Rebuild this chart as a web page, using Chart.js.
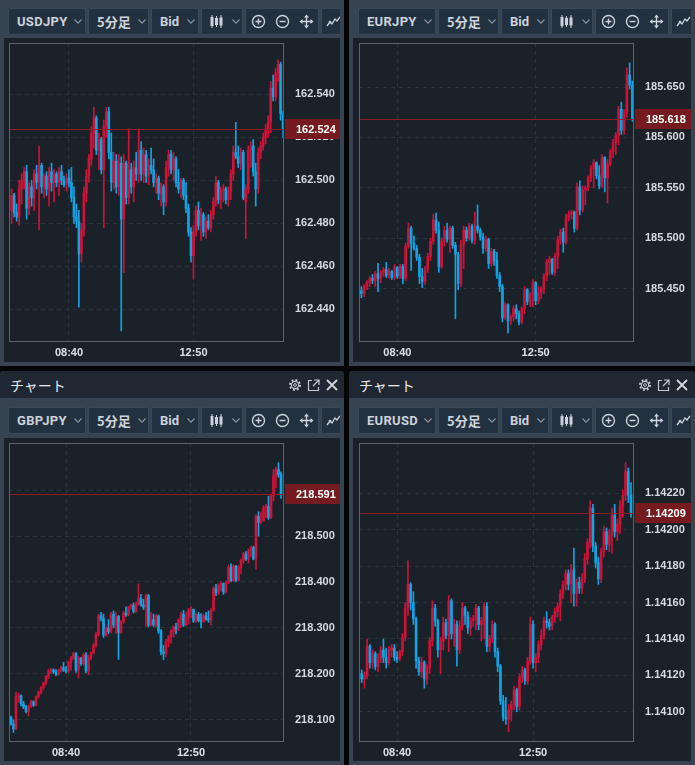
<!DOCTYPE html>
<html lang="ja">
<head>
<meta charset="UTF-8">
<title>5分足チャート</title>
<script src="https://cdn.jsdelivr.net/npm/chart.js"></script>
<style>
  body { margin: 0; width: 695px; height: 765px; background: #040506; overflow: hidden;
         font-family: "Liberation Sans", Arial, sans-serif; }
  .panel { position: absolute; background: #374351; overflow: hidden; }
  .panel.low { border-radius: 4px 4px 0 0; }
  .head { position: absolute; left: 0; top: 0; width: 100%; height: 27px; background: #1f2732; }
  .title { position: absolute; left: 10px; top: 4px; font-size: 14px; line-height: 20px;
           font-family: "Noto Sans CJK JP", sans-serif; color: #e8ebee; }
  .bar { position: absolute; height: 27px; overflow: hidden; }
  .btn { position: absolute; top: 0; height: 25px; background: #233040; border: 1px solid #3b4857;
         border-radius: 2px; color: #ccd3db; }
  .btn span { position: absolute; top: 0; line-height: 25px; font-size: 13px; font-weight: bold;
              font-family: Roboto, "Liberation Sans", sans-serif; }
  .btn span.jp { font-family: "Noto Sans CJK JP", sans-serif; }
  .ic { position: absolute; }
  .area { position: absolute; background: #1b2129; }
  canvas { display: block; }
</style>
</head>
<body>
<div id="root"></div>
<script>
const timeLabels = ['08:40', '12:50'];

// USDJPY 5分足
const usdjpyOpen = [
  162.486,162.493,162.485,162.483,162.496,162.500,162.504,162.487,162.497,162.492,
  162.503,162.499,162.507,162.497,162.502,162.496,162.504,162.499,162.503,162.499,
  162.504,162.500,162.498,162.501,162.499,162.492,162.483,162.481,162.466,162.477,
  162.494,162.502,162.510,162.522,162.529,162.514,162.519,162.505,162.525,162.532,
  162.513,162.499,162.509,162.497,162.508,162.482,162.508,162.492,162.505,162.497,
  162.506,162.503,162.514,162.503,162.512,162.502,162.507,162.505,162.499,162.501,
  162.494,162.497,162.490,162.506,162.512,162.505,162.510,162.499,162.496,162.500,
  162.493,162.487,162.476,162.465,162.476,162.486,162.479,162.484,162.476,162.481,
  162.478,162.484,162.490,162.499,162.491,162.495,162.496,162.491,162.495,162.503,
  162.513,162.511,162.508,162.513,162.490,162.496,162.514,162.516,162.504,162.496,
  162.513,162.516,162.520,162.524,162.527,162.543,162.539,162.550,162.554,162.531];
const usdjpyHigh = [
  162.496,162.494,162.489,162.500,162.503,162.506,162.507,162.499,162.500,162.505,
  162.507,162.516,162.508,162.503,162.504,162.506,162.508,162.505,162.504,162.506,
  162.507,162.502,162.503,162.505,162.506,162.497,162.489,162.486,162.480,162.497,
  162.505,162.512,162.525,162.534,162.530,162.522,162.520,162.528,162.534,162.534,
  162.522,162.513,162.512,162.512,162.511,162.512,162.509,162.524,162.508,162.509,
  162.513,162.524,162.518,162.515,162.514,162.510,162.515,162.510,162.503,162.502,
  162.499,162.498,162.509,162.514,162.514,162.513,162.511,162.505,162.501,162.501,
  162.499,162.489,162.478,162.479,162.488,162.490,162.487,162.485,162.483,162.484,
  162.486,162.492,162.502,162.500,162.497,162.498,162.497,162.497,162.505,162.516,
  162.527,162.516,162.515,162.514,162.498,162.516,162.518,162.519,162.508,162.515,
  162.518,162.522,162.526,162.530,162.546,162.549,162.552,162.556,162.555,162.532];
const usdjpyLow = [
  162.480,162.483,162.481,162.479,162.489,162.496,162.482,162.484,162.488,162.486,
  162.496,162.477,162.494,162.492,162.493,162.488,162.495,162.490,162.497,162.493,
  162.498,162.497,162.495,162.497,162.490,162.480,162.478,162.441,162.462,162.474,
  162.490,162.499,162.507,162.515,162.512,162.505,162.503,162.478,162.520,162.510,
  162.495,162.496,162.494,162.493,162.430,162.457,162.489,162.489,162.494,162.490,
  162.500,162.499,162.500,162.499,162.499,162.498,162.503,162.497,162.494,162.491,
  162.488,162.484,162.488,162.502,162.503,162.500,162.497,162.494,162.492,162.491,
  162.485,162.474,162.462,162.454,162.474,162.477,162.472,162.474,162.473,162.477,
  162.476,162.482,162.488,162.489,162.487,162.490,162.489,162.488,162.491,162.500,
  162.510,162.506,162.505,162.491,162.473,162.494,162.506,162.502,162.488,162.494,
  162.510,162.514,162.517,162.520,162.522,162.537,162.537,162.546,162.528,162.520];
const usdjpyClose = [
  162.493,162.485,162.483,162.496,162.500,162.504,162.487,162.497,162.492,162.503,
  162.499,162.507,162.497,162.502,162.496,162.504,162.499,162.503,162.499,162.504,
  162.500,162.498,162.501,162.499,162.492,162.483,162.481,162.466,162.477,162.494,
  162.502,162.510,162.522,162.529,162.514,162.519,162.505,162.525,162.532,162.513,
  162.499,162.509,162.497,162.508,162.482,162.508,162.492,162.505,162.497,162.506,
  162.503,162.514,162.503,162.512,162.502,162.507,162.505,162.499,162.501,162.494,
  162.497,162.490,162.506,162.512,162.505,162.510,162.499,162.496,162.500,162.493,
  162.487,162.476,162.465,162.476,162.486,162.479,162.484,162.476,162.481,162.478,
  162.484,162.490,162.499,162.491,162.495,162.496,162.491,162.495,162.503,162.513,
  162.511,162.508,162.513,162.492,162.496,162.514,162.516,162.504,162.496,162.513,
  162.516,162.520,162.524,162.527,162.543,162.539,162.550,162.554,162.531,162.524];
const usdjpyTicks = [162.440, 162.460, 162.480, 162.500, 162.520, 162.540];
const usdjpyTimeIdx = [23, 73];

// EURJPY 5分足
const eurjpyOpen = [
  185.448,185.445,185.452,185.456,185.460,185.458,185.465,185.460,185.466,185.469,
  185.463,185.467,185.461,185.471,185.462,185.472,185.460,185.492,185.510,185.495,
  185.490,185.481,185.462,185.457,185.469,185.482,185.497,185.518,185.508,185.472,
  185.497,185.508,185.499,185.510,185.493,185.484,185.455,185.494,185.508,185.500,
  185.512,185.498,185.512,185.508,185.501,185.490,185.499,185.475,185.487,185.478,
  185.463,185.452,185.421,185.434,185.418,185.422,185.430,185.425,185.417,185.430,
  185.449,185.437,185.444,185.456,185.438,185.446,185.450,185.462,185.476,185.479,
  185.466,185.482,185.499,185.506,185.496,185.521,185.524,185.526,185.510,185.551,
  185.528,185.548,185.550,185.560,185.569,185.575,185.562,185.552,185.580,185.560,
  185.574,185.586,185.595,185.602,185.628,185.607,185.625,185.662,185.652];
const eurjpyHigh = [
  185.452,185.454,185.458,185.462,185.464,185.467,185.475,185.468,185.471,185.476,
  185.470,185.468,185.474,185.472,185.474,185.474,185.495,185.515,185.512,185.502,
  185.493,185.484,185.470,185.472,185.485,185.500,185.524,185.525,185.516,185.500,
  185.512,185.515,185.512,185.512,185.496,185.486,185.498,185.512,185.511,185.515,
  185.514,185.526,185.533,185.510,185.505,185.502,185.500,185.490,185.489,185.486,
  185.466,185.454,185.436,185.435,185.424,185.433,185.434,185.428,185.432,185.452,
  185.450,185.446,185.459,185.457,185.452,185.452,185.465,185.479,185.482,185.480,
  185.485,185.502,185.509,185.510,185.524,185.527,185.528,185.527,185.555,185.557,
  185.552,185.552,185.562,185.572,185.578,185.576,185.572,185.583,185.581,185.578,
  185.588,185.598,185.605,185.631,185.635,185.628,185.669,185.674,185.656];
const eurjpyLow = [
  185.441,185.442,185.449,185.452,185.455,185.452,185.447,185.456,185.462,185.461,
  185.460,185.459,185.459,185.460,185.460,185.455,185.458,185.490,185.468,185.488,
  185.478,185.455,185.451,185.454,185.466,185.478,185.494,185.505,185.466,185.470,
  185.492,185.496,185.486,185.490,185.420,185.449,185.452,185.470,185.497,185.498,
  185.495,185.494,185.505,185.498,185.485,185.487,185.470,185.472,185.473,185.460,
  185.447,185.417,185.419,185.406,185.414,185.418,185.420,185.414,185.415,185.425,
  185.434,185.432,185.432,185.434,185.435,185.440,185.445,185.458,185.464,185.464,
  185.463,185.470,185.494,185.486,185.494,185.517,185.519,185.506,185.508,185.523,
  185.526,185.533,185.547,185.556,185.550,185.559,185.549,185.550,185.546,185.535,
  185.572,185.580,185.583,185.593,185.603,185.603,185.620,185.648,185.616];
const eurjpyClose = [
  185.445,185.452,185.456,185.460,185.458,185.465,185.460,185.466,185.469,185.463,
  185.467,185.461,185.471,185.462,185.472,185.460,185.492,185.510,185.495,185.490,
  185.481,185.462,185.457,185.469,185.482,185.497,185.518,185.508,185.472,185.497,
  185.508,185.499,185.510,185.493,185.484,185.455,185.494,185.508,185.500,185.512,
  185.498,185.512,185.508,185.501,185.490,185.499,185.475,185.487,185.478,185.463,
  185.452,185.421,185.434,185.418,185.422,185.430,185.425,185.417,185.430,185.449,
  185.437,185.444,185.456,185.438,185.446,185.450,185.462,185.476,185.479,185.466,
  185.482,185.499,185.506,185.496,185.521,185.524,185.526,185.510,185.551,185.528,
  185.548,185.550,185.560,185.569,185.575,185.562,185.552,185.580,185.560,185.574,
  185.586,185.595,185.602,185.628,185.607,185.625,185.662,185.652,185.618];
const eurjpyTicks = [185.450, 185.500, 185.550, 185.600, 185.650];
const eurjpyTimeIdx = [13, 63];

// GBPJPY 5分足
const gbpjpyOpen = [
  218.105,218.091,218.080,218.150,218.152,218.135,218.128,218.118,218.129,218.139,
  218.132,218.150,218.159,218.170,218.180,218.194,218.206,218.208,218.204,218.199,
  218.207,218.213,218.208,218.205,218.225,218.234,218.244,218.208,218.234,218.222,
  218.241,218.206,218.236,218.245,218.262,218.286,218.326,218.320,218.284,218.299,
  218.292,218.330,218.306,218.325,218.290,218.313,218.332,218.328,218.345,218.349,
  218.336,218.352,218.364,218.350,218.345,218.370,218.306,218.318,218.307,218.326,
  218.293,218.248,218.244,218.270,218.280,218.292,218.302,218.298,218.317,218.329,
  218.306,218.323,218.338,218.340,218.315,218.329,218.316,218.314,218.326,218.320,
  218.317,218.338,218.385,218.377,218.393,218.397,218.378,218.398,218.432,218.403,
  218.434,218.404,218.432,218.447,218.461,218.450,218.468,218.475,218.450,218.543,
  218.530,218.534,218.562,218.565,218.540,218.588,218.632,218.645,218.634];
const gbpjpyHigh = [
  218.108,218.100,218.160,218.158,218.154,218.140,218.131,218.132,218.142,218.141,
  218.152,218.162,218.172,218.182,218.196,218.210,218.212,218.211,218.209,218.210,
  218.216,218.225,218.216,218.228,218.238,218.247,218.246,218.238,218.236,218.245,
  218.246,218.240,218.248,218.266,218.290,218.330,218.334,218.330,218.302,218.318,
  218.334,218.337,218.334,218.327,218.316,218.336,218.346,218.347,218.352,218.354,
  218.356,218.396,218.373,218.362,218.374,218.373,218.333,218.330,218.329,218.328,
  218.296,218.262,218.275,218.283,218.296,218.305,218.310,218.320,218.334,218.338,
  218.335,218.342,218.346,218.341,218.332,218.334,218.331,218.330,218.334,218.337,
  218.342,218.390,218.395,218.396,218.400,218.398,218.402,218.437,218.440,218.438,
  218.436,218.436,218.450,218.465,218.466,218.472,218.478,218.478,218.546,218.553,
  218.552,218.566,218.569,218.587,218.592,218.645,218.650,218.660,218.640];
const gbpjpyLow = [
  218.088,218.072,218.078,218.138,218.130,218.124,218.115,218.108,218.126,218.129,
  218.130,218.147,218.156,218.166,218.176,218.190,218.200,218.201,218.196,218.197,
  218.204,218.205,218.202,218.203,218.208,218.231,218.203,218.191,218.218,218.219,
  218.202,218.198,218.230,218.243,218.258,218.282,218.315,218.279,218.282,218.287,
  218.289,218.300,218.288,218.231,218.288,218.310,218.325,218.326,218.341,218.332,
  218.334,218.349,218.347,218.340,218.303,218.302,218.304,218.303,218.302,218.288,
  218.241,218.231,218.237,218.258,218.266,218.280,218.287,218.294,218.301,218.303,
  218.305,218.308,218.322,218.312,218.312,218.313,218.300,218.312,218.316,218.312,
  218.306,218.336,218.370,218.372,218.380,218.373,218.376,218.396,218.400,218.401,
  218.400,218.402,218.418,218.441,218.447,218.441,218.455,218.448,218.427,218.500,
  218.527,218.532,218.540,218.536,218.538,218.576,218.605,218.628,218.582];
const gbpjpyClose = [
  218.091,218.080,218.150,218.152,218.135,218.128,218.118,218.129,218.139,218.132,
  218.150,218.159,218.170,218.180,218.194,218.206,218.208,218.204,218.199,218.207,
  218.213,218.208,218.205,218.225,218.234,218.244,218.208,218.234,218.222,218.241,
  218.206,218.236,218.245,218.262,218.286,218.326,218.320,218.284,218.299,218.292,
  218.330,218.306,218.325,218.290,218.313,218.332,218.328,218.345,218.349,218.336,
  218.352,218.364,218.350,218.345,218.370,218.306,218.318,218.307,218.326,218.293,
  218.248,218.244,218.270,218.280,218.292,218.302,218.298,218.317,218.329,218.306,
  218.323,218.338,218.340,218.315,218.329,218.316,218.314,218.326,218.320,218.317,
  218.338,218.385,218.377,218.393,218.397,218.378,218.398,218.432,218.403,218.434,
  218.404,218.432,218.447,218.461,218.450,218.468,218.475,218.450,218.543,218.530,
  218.534,218.562,218.565,218.540,218.588,218.632,218.645,218.634,218.591];
const gbpjpyTicks = [218.100, 218.200, 218.300, 218.400, 218.500, 218.600];
const gbpjpyTimeIdx = [22, 72];

// EURUSD 5分足
const eurusdOpen = [
  1.14121,1.14118,1.14120,1.14136,1.14127,1.14132,1.14125,1.14129,1.14134,1.14130,
  1.14127,1.14134,1.14135,1.14130,1.14129,1.14133,1.14141,1.14157,1.14170,1.14160,
  1.14151,1.14128,1.14122,1.14127,1.14118,1.14124,1.14139,1.14157,1.14150,1.14134,
  1.14139,1.14149,1.14142,1.14161,1.14143,1.14148,1.14134,1.14147,1.14157,1.14153,
  1.14146,1.14150,1.14151,1.14157,1.14148,1.14150,1.14158,1.14136,1.14140,1.14148,
  1.14133,1.14125,1.14106,1.14097,1.14096,1.14101,1.14104,1.14112,1.14103,1.14119,
  1.14123,1.14117,1.14128,1.14148,1.14127,1.14130,1.14137,1.14142,1.14150,1.14149,
  1.14147,1.14152,1.14155,1.14158,1.14165,1.14170,1.14176,1.14170,1.14178,1.14165,
  1.14171,1.14168,1.14173,1.14184,1.14193,1.14212,1.14191,1.14182,1.14173,1.14188,
  1.14199,1.14192,1.14197,1.14208,1.14199,1.14203,1.14213,1.14219,1.14232,1.14219];
const eurusdHigh = [
  1.14123,1.14122,1.14140,1.14137,1.14134,1.14133,1.14132,1.14136,1.14140,1.14135,
  1.14136,1.14137,1.14137,1.14133,1.14134,1.14143,1.14160,1.14183,1.14171,1.14166,
  1.14152,1.14130,1.14130,1.14128,1.14126,1.14141,1.14161,1.14159,1.14151,1.14141,
  1.14152,1.14151,1.14164,1.14162,1.14151,1.14150,1.14150,1.14160,1.14158,1.14155,
  1.14152,1.14153,1.14159,1.14158,1.14152,1.14160,1.14160,1.14142,1.14150,1.14149,
  1.14135,1.14126,1.14109,1.14108,1.14104,1.14106,1.14114,1.14113,1.14121,1.14125,
  1.14124,1.14130,1.14152,1.14150,1.14132,1.14139,1.14145,1.14152,1.14155,1.14151,
  1.14153,1.14157,1.14160,1.14167,1.14172,1.14178,1.14178,1.14181,1.14190,1.14173,
  1.14174,1.14176,1.14187,1.14195,1.14216,1.14214,1.14193,1.14185,1.14190,1.14202,
  1.14201,1.14200,1.14212,1.14214,1.14206,1.14216,1.14222,1.14237,1.14234,1.14226];
const eurusdLow = [
  1.14116,1.14113,1.14118,1.14124,1.14124,1.14123,1.14122,1.14127,1.14127,1.14124,
  1.14126,1.14130,1.14128,1.14127,1.14128,1.14131,1.14139,1.14153,1.14156,1.14148,
  1.14124,1.14120,1.14119,1.14113,1.14115,1.14121,1.14136,1.14147,1.14130,1.14121,
  1.14134,1.14140,1.14133,1.14140,1.14136,1.14125,1.14132,1.14145,1.14148,1.14143,
  1.14142,1.14147,1.14145,1.14145,1.14139,1.14140,1.14133,1.14133,1.14138,1.14130,
  1.14122,1.14104,1.14095,1.14093,1.14089,1.14095,1.14101,1.14100,1.14101,1.14116,
  1.14115,1.14115,1.14126,1.14124,1.14122,1.14127,1.14134,1.14140,1.14146,1.14145,
  1.14145,1.14149,1.14152,1.14150,1.14162,1.14167,1.14167,1.14160,1.14158,1.14158,
  1.14165,1.14165,1.14171,1.14181,1.14190,1.14188,1.14179,1.14170,1.14171,1.14185,
  1.14189,1.14188,1.14187,1.14196,1.14194,1.14198,1.14207,1.14216,1.14215,1.14207];
const eurusdClose = [
  1.14118,1.14120,1.14136,1.14127,1.14132,1.14125,1.14129,1.14134,1.14130,1.14127,
  1.14134,1.14135,1.14130,1.14129,1.14133,1.14141,1.14157,1.14170,1.14160,1.14151,
  1.14128,1.14122,1.14127,1.14118,1.14124,1.14139,1.14157,1.14150,1.14134,1.14139,
  1.14149,1.14142,1.14161,1.14143,1.14148,1.14134,1.14147,1.14157,1.14153,1.14146,
  1.14150,1.14151,1.14157,1.14148,1.14150,1.14158,1.14136,1.14140,1.14148,1.14133,
  1.14125,1.14106,1.14097,1.14096,1.14101,1.14104,1.14112,1.14103,1.14119,1.14123,
  1.14117,1.14128,1.14148,1.14127,1.14130,1.14137,1.14142,1.14150,1.14149,1.14147,
  1.14152,1.14155,1.14158,1.14165,1.14170,1.14176,1.14170,1.14178,1.14165,1.14171,
  1.14168,1.14173,1.14184,1.14193,1.14212,1.14191,1.14182,1.14173,1.14188,1.14199,
  1.14192,1.14197,1.14208,1.14199,1.14203,1.14213,1.14219,1.14232,1.14219,1.14209];
const eurusdTicks = [1.14100, 1.14120, 1.14140, 1.14160, 1.14180, 1.14200, 1.14220];
const eurusdTimeIdx = [13, 63];

const UP = '#cc1338';
const DOWN = '#13a3e2';
const ICON = '#ccd3db';

// ---- panel chrome ----
function chevron(x) {
  return `<svg class="ic" style="left:${x}px;top:10px" width="8" height="5"><polyline points="0.5,0.5 4,4.2 7.5,0.5" fill="none" stroke="#8b96a2" stroke-width="1.1"/></svg>`;
}
const candleIcon = `<svg class="ic" style="left:8px;top:5px" width="13" height="15">
  <line x1="2" y1="1" x2="2" y2="14" stroke="${ICON}"/><rect x="0.5" y="3" width="3" height="9" fill="${ICON}"/>
  <line x1="6.5" y1="2" x2="6.5" y2="13" stroke="${ICON}"/><rect x="5.5" y="4.5" width="2" height="6" fill="none" stroke="${ICON}"/>
  <line x1="11" y1="1" x2="11" y2="14" stroke="${ICON}"/><rect x="9.5" y="3.5" width="3" height="8" fill="${ICON}"/></svg>`;
const zoomIcons = `
  <svg class="ic" style="left:5px;top:5px" width="15" height="15"><circle cx="7.5" cy="7.5" r="6" fill="none" stroke="${ICON}" stroke-width="1.4"/><path d="M7.5 4.5V10.5M4.5 7.5H10.5" stroke="${ICON}" stroke-width="1.4"/></svg>
  <svg class="ic" style="left:29px;top:5px" width="15" height="15"><circle cx="7.5" cy="7.5" r="6" fill="none" stroke="${ICON}" stroke-width="1.4"/><path d="M4.5 7.5H10.5" stroke="${ICON}" stroke-width="1.4"/></svg>
  <svg class="ic" style="left:53px;top:5px" width="15" height="15"><path d="M7.5 2V13M2 7.5H13" stroke="${ICON}" stroke-width="1.4"/>
    <path d="M7.5 0.5L5 3.5H10ZM7.5 14.5L5 11.5H10ZM0.5 7.5L3.5 5V10ZM14.5 7.5L11.5 5V10Z" fill="${ICON}"/></svg>`;
const lineIcon = `<svg class="ic" style="left:4px;top:6px" width="15" height="13"><polyline points="1,11 4,7 6,9 9,4 11,6 14,2" fill="none" stroke="${ICON}" stroke-width="1.3"/><circle cx="4" cy="7" r="1.3" fill="${ICON}"/></svg>`;

function toolbar(symbol) {
  return `
  <div class="btn" style="left:8px;width:76px"><span style="left:8px;letter-spacing:0.3px">${symbol}</span>${chevron(65)}</div>
  <div class="btn" style="left:88px;width:59px"><span class="jp" style="left:8px">5分足</span>${chevron(49)}</div>
  <div class="btn" style="left:151px;width:46px"><span style="left:8px">Bid</span>${chevron(35)}</div>
  <div class="btn" style="left:201px;width:40px">${candleIcon}${chevron(30)}</div>
  <div class="btn" style="left:245px;width:72px">${zoomIcons}</div>
  <div class="btn" style="left:321px;width:40px">${lineIcon}</div>`;
}

function headerBar(dx) {
  return `<div class="head"><div class="title">チャート</div>
    <svg class="ic" style="left:${288 + dx}px;top:7px" width="14" height="14"><circle cx="7" cy="7" r="5" fill="none" stroke="#c5cad1" stroke-width="2" stroke-dasharray="1.9 2"/><circle cx="7" cy="7" r="3.6" fill="none" stroke="#c5cad1" stroke-width="1.1"/><circle cx="7" cy="7" r="1.4" fill="none" stroke="#c5cad1"/></svg>
    <svg class="ic" style="left:${307 + dx}px;top:8px" width="13" height="13"><path d="M5 1.5H1.5V11.5H11.5V8" fill="none" stroke="#c5cad1" stroke-width="1.2"/><path d="M7 1H12V6M12 1L6 7" fill="none" stroke="#c5cad1" stroke-width="1.2"/></svg>
    <svg class="ic" style="left:${326 + dx}px;top:8px" width="12" height="12"><path d="M1 1L11 11M11 1L1 11" stroke="#d5d9de" stroke-width="1.8"/></svg></div>`;
}

const layout = [
  { cid: 'usdjpy', sym: 'USDJPY', left: 0,   top: 0,   w: 344, h: 366, head: false, dx: 0, aw: 336, ah: 324 },
  { cid: 'eurjpy', sym: 'EURJPY', left: 349, top: 0,   w: 346, h: 366, head: false, dx: 1, aw: 338, ah: 324 },
  { cid: 'gbpjpy', sym: 'GBPJPY', left: 0,   top: 371, w: 344, h: 394, head: true,  dx: 0, aw: 336, ah: 323 },
  { cid: 'eurusd', sym: 'EURUSD', left: 349, top: 371, w: 346, h: 394, head: true,  dx: 1, aw: 338, ah: 323 }
];

const root = document.getElementById('root');
layout.forEach(p => {
  const barTop = p.head ? 36 : 8;
  const areaTop = p.head ? 67 : 38;
  root.insertAdjacentHTML('beforeend', `
  <div class="panel${p.head ? ' low' : ''}" style="left:${p.left}px;top:${p.top}px;width:${p.w}px;height:${p.h}px">
    ${p.head ? headerBar(p.dx) : ''}
    <div class="bar" style="left:${p.dx}px;top:${barTop}px;width:${p.aw + 4 - p.dx}px">${toolbar(p.sym)}</div>
    <div class="area" style="left:4px;top:${areaTop}px;width:${p.aw}px;height:${p.ah}px">
      <canvas id="${p.cid}" width="${p.aw}" height="${p.ah}"></canvas>
    </div>
  </div>`);
});

// ---- candles ----
const labelFont = { family: 'Liberation Sans', size: 11, weight: 'bold' };

const lastPrice = {
  id: 'lastPrice',
  afterDatasetsDraw(chart, args, opts) {
    const { ctx, chartArea: a, scales: { y } } = chart;
    const py = Math.round(y.getPixelForValue(opts.value)) + 0.5;
    ctx.save();
    ctx.strokeStyle = '#8e1c25';
    ctx.lineWidth = 1;
    ctx.beginPath();
    ctx.moveTo(a.left, py);
    ctx.lineTo(a.right, py);
    ctx.stroke();
    ctx.strokeStyle = '#5a636e';
    ctx.strokeRect(a.left + 0.5, a.top + 0.5, a.right - a.left - 1, a.bottom - a.top - 1);
    ctx.restore();
  },
  afterDraw(chart, args, opts) {
    const { ctx, chartArea: a, scales: { y } } = chart;
    const py = Math.round(y.getPixelForValue(opts.value));
    ctx.save();
    ctx.fillStyle = '#751b20';
    ctx.fillRect(a.right + 1, py - 10, chart.width - a.right - 1, 20);
    ctx.fillStyle = '#ffffff';
    ctx.font = 'bold 11px "Liberation Sans"';
    ctx.textBaseline = 'middle';
    ctx.fillText(opts.value.toFixed(opts.decimals), a.right + 12, py + 1);
    ctx.restore();
  }
};

function drawCandles(canvasId, open, high, low, close, ticks, timeIdx, view) {
  const colors = close.map((c, i) => (c >= open[i] ? UP : DOWN));
  const bodies = open.map((o, i) => ({ x: i, y: [o, close[i]] }));
  const wicks = low.map((l, i) => ({ x: i, y: [l, high[i]] }));
  return new Chart(document.getElementById(canvasId), {
    type: 'bar',
    data: {
      datasets: [
        { data: bodies, backgroundColor: colors, barThickness: 2, minBarLength: 1, grouped: false, borderWidth: 0 },
        { data: wicks, backgroundColor: colors, barThickness: 1, grouped: false, borderWidth: 0 }
      ]
    },
    options: {
      responsive: false,
      animation: false,
      events: [],
      layout: { padding: { left: view.padLeft, top: 5, right: 0, bottom: 0 } },
      plugins: {
        legend: { display: false },
        tooltip: { enabled: false },
        lastPrice: { value: close[close.length - 1], decimals: view.decimals }
      },
      scales: {
        x: {
          type: 'linear', min: view.xMin, max: view.xMax, offset: false,
          grid: { color: '#2a323c', drawTicks: false, offset: false },
          border: { display: false, dash: [4, 4] },
          afterBuildTicks: s => { s.ticks = timeIdx.map(v => ({ value: v })); },
          afterFit: s => { s.height = view.axisH; s.paddingLeft = 0; s.paddingRight = 0; },
          ticks: {
            color: '#dfe3e7', font: labelFont, padding: 4, maxRotation: 0, autoSkip: false,
            callback: v => timeLabels[timeIdx.indexOf(v)]
          }
        },
        y: {
          position: 'right', min: view.yMin, max: view.yMax, beginAtZero: false,
          grid: { color: '#2a323c', drawTicks: false },
          border: { display: false, dash: [4, 4] },
          afterBuildTicks: s => { s.ticks = ticks.map(v => ({ value: v })); },
          afterFit: s => { s.width = view.axisW; s.paddingTop = 0; s.paddingBottom = 0; },
          ticks: {
            color: '#d7dbe0', font: labelFont, padding: 11, autoSkip: false,
            callback: v => v.toFixed(view.decimals)
          }
        }
      }
    },
    plugins: [lastPrice]
  });
}

drawCandles('usdjpy', usdjpyOpen, usdjpyHigh, usdjpyLow, usdjpyClose, usdjpyTicks, usdjpyTimeIdx,
  { padLeft: 5, axisW: 56, axisH: 20, xMin: -1.08, xMax: 109.36, yMin: 162.4248, yMax: 162.5639, decimals: 3 });
drawCandles('eurjpy', eurjpyOpen, eurjpyHigh, eurjpyLow, eurjpyClose, eurjpyTicks, eurjpyTimeIdx,
  { padLeft: 6, axisW: 57, axisH: 20, xMin: -0.87, xMax: 98.58, yMin: 185.397, yMax: 185.6937, decimals: 3 });
drawCandles('gbpjpy', gbpjpyOpen, gbpjpyHigh, gbpjpyLow, gbpjpyClose, gbpjpyTicks, gbpjpyTimeIdx,
  { padLeft: 5, axisW: 56, axisH: 19, xMin: -0.8, xMax: 109.2, yMin: 218.0514, yMax: 218.7026, decimals: 3 });
drawCandles('eurusd', eurusdOpen, eurusdHigh, eurusdLow, eurusdClose, eurusdTicks, eurusdTimeIdx,
  { padLeft: 6, axisW: 57, axisH: 19, xMin: -0.99, xMax: 100.1, yMin: 1.140834, yMax: 1.142477, decimals: 5 });
</script>
</body>
</html>
